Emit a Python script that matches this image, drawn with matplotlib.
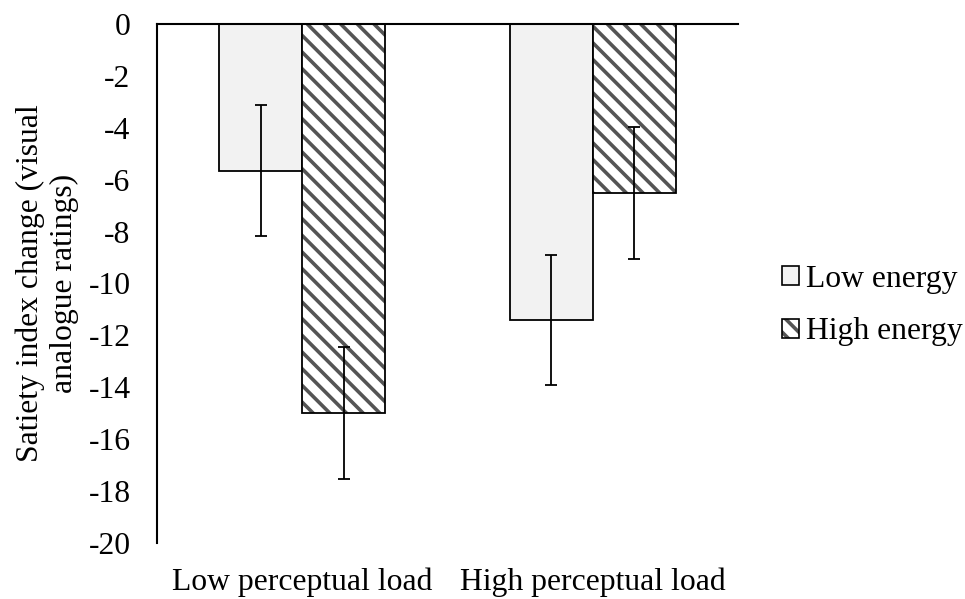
import numpy as np
import matplotlib.pyplot as plt
from matplotlib.patches import Patch
from matplotlib.legend_handler import HandlerTuple

# data
categories = ["Low perceptual load", "High perceptual load"]
series_names = ["Low energy", "High energy"]
low_energy = [-5.65, -11.4]
high_energy = [-15.0, -6.5]
low_err = [2.52, 2.5]
high_err = [2.54, 2.54]
yticks = [0, -2, -4, -6, -8, -10, -12, -14, -16, -18, -20]

plt.rcParams['font.family'] = ['Liberation Serif', 'DejaVu Serif']
plt.rcParams['hatch.linewidth'] = 2.6
fs = 22.8

fig = plt.figure(figsize=(9.65, 5.99), dpi=100)
ax = fig.add_axes([0.1627, 0.0935, 0.6023, 0.8665])

x = np.arange(len(categories))
w = 0.286
hatch_col = '#555555'
b1 = ax.bar(x - w / 2, low_energy, w, color='#f2f2f2', edgecolor='black', linewidth=1.3,
            zorder=2)
# hatch takes the edge colour, so draw hatch and outline separately
ax.bar(x + w / 2, high_energy, w, color='white', edgecolor=hatch_col, linewidth=0,
       hatch='\\\\', zorder=2)
ax.bar(x + w / 2, high_energy, w, color='none', edgecolor='black', linewidth=1.3, zorder=2)
ax.errorbar(x - w / 2, low_energy, yerr=low_err, fmt='none', ecolor='black',
            elinewidth=1.3, capsize=4.5, capthick=1.3, zorder=3)
ax.errorbar(x + w / 2, high_energy, yerr=high_err, fmt='none', ecolor='black',
            elinewidth=1.3, capsize=4.5, capthick=1.3, zorder=3)

ax.set_xlim(-0.5, 1.5)
ax.set_ylim(-20, 0)
ax.set_yticks(yticks)
ax.set_yticklabels([str(t) for t in yticks])
ax.set_xticks(x)
ax.set_xticklabels(categories)
ax.tick_params(axis='y', length=0, pad=19, labelsize=fs)
ax.tick_params(axis='x', length=0, pad=18, labelsize=fs)

ax.spines['right'].set_visible(False)
ax.spines['bottom'].set_visible(False)
ax.spines['top'].set_linewidth(1.5)
ax.spines['left'].set_linewidth(1.5)

ax.set_ylabel("Satiety index change (visual\nanalogue ratings)", fontsize=fs, labelpad=7,
              linespacing=1.2)

h_low = Patch(facecolor='#f2f2f2', edgecolor='black', linewidth=1.2)
h_high = (Patch(facecolor='white', edgecolor=hatch_col, linewidth=0, hatch='\\\\'),
          Patch(facecolor='none', edgecolor='black', linewidth=1.2))
fig.legend(handles=[h_low, h_high], labels=series_names, loc='center left',
           bbox_to_anchor=(0.8104, 0.49), frameon=False, fontsize=fs,
           handlelength=0.55, handleheight=0.55, handletextpad=0.2, labelspacing=0.75,
           borderpad=0, borderaxespad=0,
           handler_map={tuple: HandlerTuple(ndivide=1, pad=0)})

fig.savefig('out.png', dpi=100)
